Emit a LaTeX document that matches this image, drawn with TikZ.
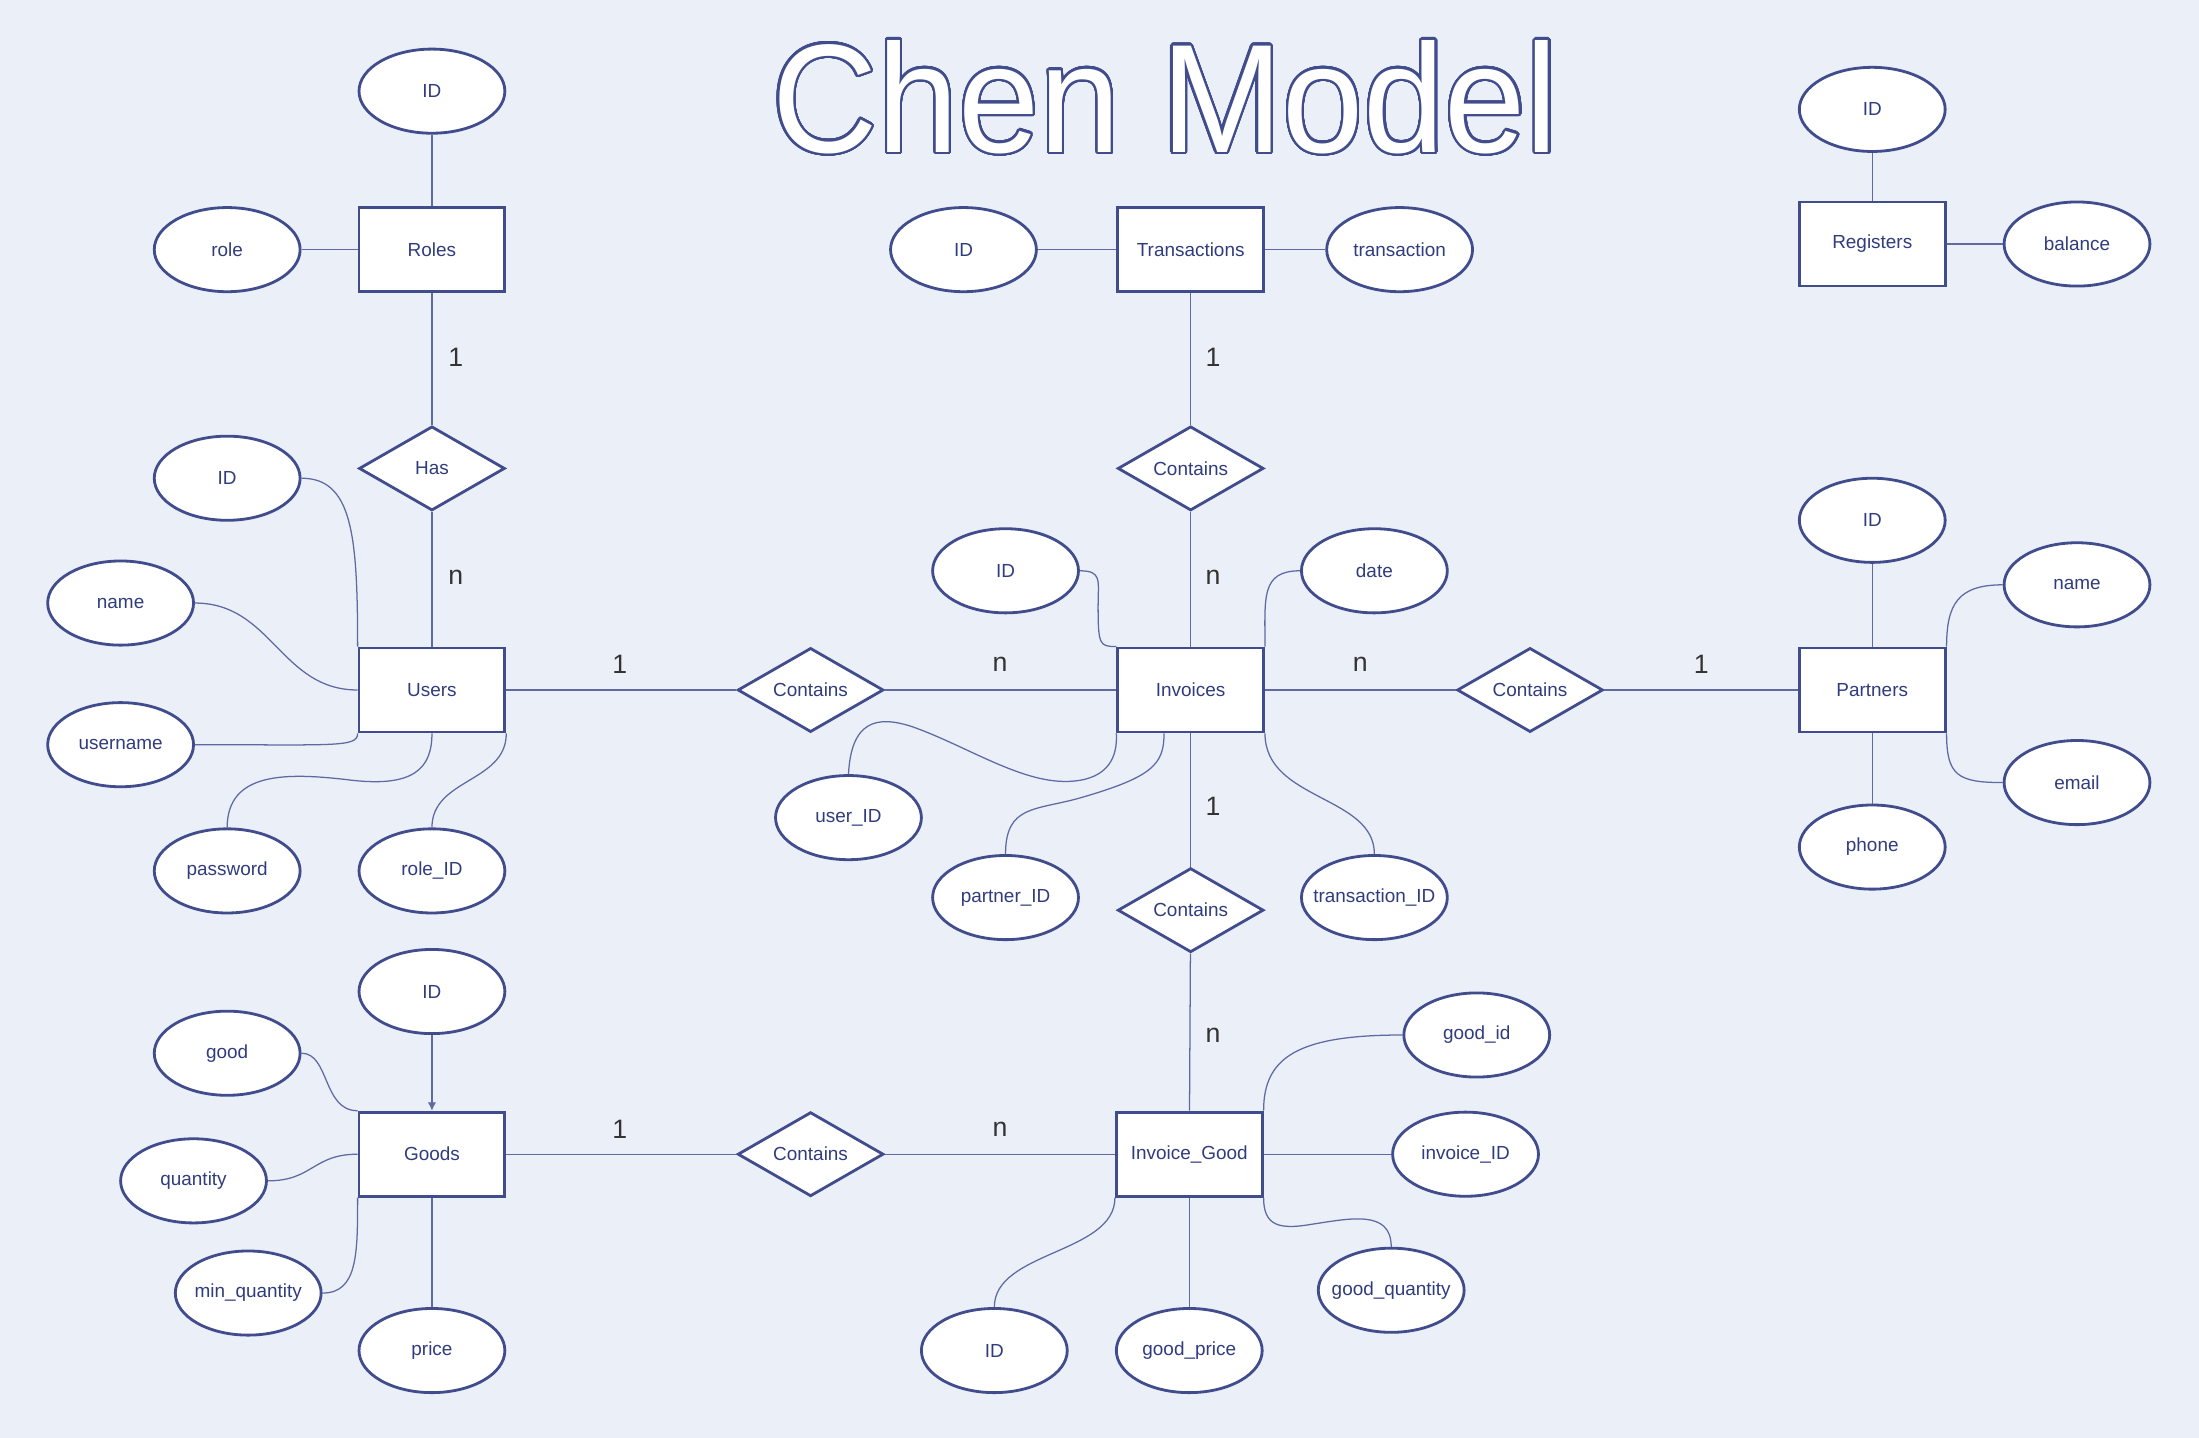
\documentclass[tikz,border=0pt]{standalone}
\usepackage{fontspec}
\setmainfont{Liberation Sans}
\usepackage[copies]{contour}
\usetikzlibrary{shapes.geometric,arrows.meta,calc}
\definecolor{bgc}{RGB}{234,239,248}
\definecolor{shapec}{RGB}{64,76,140}
\definecolor{txtc}{RGB}{48,60,125}
\definecolor{linec}{RGB}{95,106,162}
\definecolor{cardc}{RGB}{51,51,51}
\newcommand\erlbl{\fontsize{13.5}{16}\selectfont}
\newcommand\ercard{\fontsize{19}{22}\selectfont}
\newcommand\erbox[1]{\makebox[0pt]{#1}}
\contourlength{1.6pt}
\contournumber{48}
\begin{document}
\begin{tikzpicture}[x=1pt,y=-1pt,
  ent/.style={rectangle,draw=shapec,line width=2pt,fill=white,minimum width=104pt,minimum height=60pt,inner sep=0pt,text=txtc,font=\erlbl},
  rel/.style={diamond,aspect=1.7,draw=shapec,line width=2pt,fill=white,minimum width=104pt,minimum height=60pt,inner sep=0pt,text=txtc,font=\erlbl},
  att/.style={ellipse,draw=shapec,line width=2pt,fill=white,minimum width=104pt,minimum height=60pt,inner sep=0pt,text=txtc,font=\erlbl},
  conn/.style={draw=linec,line width=0.9pt},
  card/.style={text=cardc,font=\ercard,inner sep=0pt}]
\fill[bgc] (0,0) rectangle (1568,1025);
\useasboundingbox (0,0) rectangle (1568,1025);

% title
\node[text=white,font=\fontsize{104}{110}\selectfont,inner sep=0pt] (title) at (831,70) {\scalebox{1}[1.06]{\contour{shapec}{Chen Model}}};

% entities
\node[ent] (roles) at (308,178) {Roles};
\node[ent] (trans) at (849,178) {Transactions};
\node[ent] (reg) at (1335,174) {Registers};
\node[ent] (users) at (308,492) {Users};
\node[ent] (inv) at (849,492) {Invoices};
\node[ent] (partners) at (1335,492) {Partners};
\node[ent] (goods) at (308,823) {Goods};
\node[ent] (ig) at (848,823) {Invoice\_Good};

% relationships
\node[rel] (has) at (308,334) {Has};
\node[rel] (ctop) at (849,334) {Contains};
\node[rel] (cui) at (578,492) {Contains};
\node[rel] (cip) at (1091,492) {Contains};
\node[rel] (cig) at (849,649) {Contains};
\node[rel] (cgi) at (578,823) {Contains};

% attributes
\node[att] (rid) at (308,65) {ID};
\node[att] (rrole) at (162,178) {role};
\node[att] (tid) at (687,178) {ID};
\node[att] (ttrans) at (998,178) {transaction};
\node[att] (regid) at (1335,78) {ID};
\node[att] (regbal) at (1481,174) {balance};
\node[att] (uid) at (162,341) {ID};
\node[att] (uname) at (86,430) {name};
\node[att] (uuser) at (86,531) {username};
\node[att] (upass) at (162,621) {password};
\node[att] (urole) at (308,621) {role\_ID};
\node[att] (iid) at (717,407) {ID};
\node[att] (idate) at (980,407) {date};
\node[att] (iuser) at (605,583) {user\_ID};
\node[att] (ipart) at (717,640) {partner\_ID};
\node[att] (itrans) at (980,640) {\erbox{transaction\_ID}};
\node[att] (pid) at (1335,371) {ID};
\node[att] (pname) at (1481,417) {name};
\node[att] (pemail) at (1481,558) {email};
\node[att] (pphone) at (1335,604) {phone};
\node[att] (gid) at (308,707) {ID};
\node[att] (ggood) at (162,751) {good};
\node[att] (gqty) at (138,842) {quantity};
\node[att] (gmin) at (177,922) {\erbox{min\_quantity}};
\node[att] (gprice) at (308,963) {price};
\node[att] (iggid) at (1053,738) {good\_id};
\node[att] (iginv) at (1045,823) {invoice\_ID};
\node[att] (igqty) at (992,920) {\erbox{good\_quantity}};
\node[att] (igid) at (709,963) {ID};
\node[att] (igprice) at (848,963) {good\_price};

% straight connectors
\draw[conn] (rid) -- (roles);
\draw[conn] (rrole) -- (roles);
\draw[conn] (roles) -- (has);
\draw[conn] (has) -- (users);
\draw[conn] (tid) -- (trans);
\draw[conn] (trans) -- (ttrans);
\draw[conn] (trans) -- (ctop);
\draw[conn] (ctop) -- (inv);
\draw[conn] (regid) -- (reg);
\draw[conn] (reg) -- (regbal);
\draw[conn] (users) -- (cui);
\draw[conn] (cui) -- (inv);
\draw[conn] (inv) -- (cip);
\draw[conn] (cip) -- (partners);
\draw[conn] (inv) -- (cig);
\draw[conn] (cig) -- (ig);
\draw[conn] (pid) -- (partners);
\draw[conn] (partners) -- (pphone);
\draw[conn] (goods) -- (gprice);
\draw[conn,-{Latex[length=6pt,width=6pt]}] (gid) -- (goods);
\draw[conn] (goods) -- (cgi);
\draw[conn] (cgi) -- (ig);
\draw[conn] (ig) -- (iginv);
\draw[conn] (ig) -- (igprice);

% curved connectors: Users
\draw[conn] (uid.east) .. controls +(36,0) and +(0,-80) .. (users.north west);
\draw[conn] (uname.east) .. controls +(55,0) and +(-55,0) .. (users.west);
\draw[conn] (uuser.east) .. controls +(100,0) and +(0,10) .. (users.south west);
\draw[conn] (upass.north) .. controls +(0,-40) and (205,551) .. (248,556) .. controls (295,562) and (308,548) .. (users.south);
\draw[conn] (urole.north) .. controls +(0,-35) and +(0,35) .. (users.south east);

% curved connectors: Invoices
\draw[conn] (iid.east) .. controls +(16,0) and +(0,-18) .. (783,432) .. controls +(0,28) and +(-12,0) .. (inv.north west);
\draw[conn] (idate.west) .. controls +(-28,0) and +(0,-35) .. (inv.north east);
\draw[conn] (iuser.north) .. controls +(2,-38) and (625,510) .. (650,518) .. controls (690,532) and (730,560) .. (765,557) .. controls (790,555) and (797,540) .. (inv.south west);
\draw[conn] (ipart.north) .. controls +(0,-35) and (738,578) .. (770,569) .. controls (822,554) and (830,545) .. ($(inv.south)+(-19,0)$);
\draw[conn] (itrans.north) .. controls +(0,-42) and +(0,48) .. (inv.south east);

% curved connectors: Partners
\draw[conn] (pname.west) .. controls +(-32,0) and +(0,-30) .. (partners.north east);
\draw[conn] (pemail.west) .. controls +(-32,0) and +(0,30) .. (partners.south east);

% curved connectors: Goods
\draw[conn] (ggood.east) .. controls +(20,0) and +(-25,0) .. (goods.north west);
\draw[conn] (gqty.east) .. controls +(32,0) and +(-32,0) .. (goods.west);
\draw[conn] (gmin.east) .. controls +(25,0) and +(0,40) .. (goods.south west);

% curved connectors: Invoice_Good
\draw[conn] (iggid.west) .. controls +(-75,0) and +(0,-38) .. (ig.north east);
\draw[conn] (ig.south east) .. controls +(0,20) and (912,877) .. (935,873) .. controls (962,869) and (992,862) .. (igqty.north);
\draw[conn] (igid.north) .. controls +(0,-40) and +(0,40) .. (ig.south west);

% cardinalities
\node[card] (k1) at (325,255) {1};
\node[card] (k2) at (325,412) {n};
\node[card] (k3) at (865,255) {1};
\node[card] (k4) at (865,412) {n};
\node[card] (k5) at (442,474) {1};
\node[card] (k6) at (713,474) {n};
\node[card] (k7) at (970,474) {n};
\node[card] (k8) at (1213,474) {1};
\node[card] (k9) at (865,575) {1};
\node[card] (k10) at (865,738) {n};
\node[card] (k11) at (442,805) {1};
\node[card] (k12) at (713,805) {n};
\end{tikzpicture}
\end{document}
